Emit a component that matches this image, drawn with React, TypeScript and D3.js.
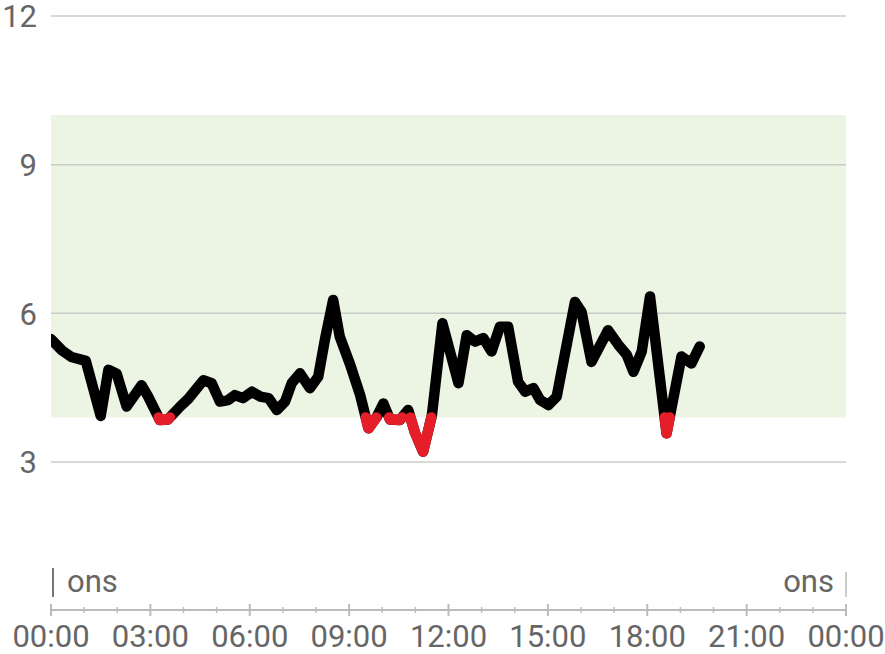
import React from "react";
import * as d3 from "d3";

const times: number[] = [0, 20, 37, 63, 90, 104, 119, 137, 164, 176, 197, 212, 234, 249, 276, 291, 306, 321, 333, 348, 364, 379, 394, 409, 424, 436, 451, 469, 484, 496, 511, 523, 542, 560, 575, 590, 602, 614, 632, 647, 659, 674, 690, 709, 738, 753, 768, 783, 798, 813, 828, 846, 859, 874, 886, 901, 916, 949, 961, 979, 1009, 1028, 1043, 1055, 1070, 1085, 1115, 1142, 1160, 1175];
const values: number[] = [5.48, 5.25, 5.12, 5.04, 3.93, 4.86, 4.78, 4.12, 4.55, 4.32, 3.85, 3.86, 4.12, 4.28, 4.65, 4.59, 4.22, 4.25, 4.35, 4.29, 4.42, 4.32, 4.29, 4.05, 4.22, 4.59, 4.79, 4.49, 4.72, 5.46, 6.27, 5.53, 4.96, 4.35, 3.68, 3.91, 4.18, 3.86, 3.85, 4.05, 3.6, 3.21, 3.95, 5.8, 4.59, 5.56, 5.43, 5.5, 5.23, 5.73, 5.73, 4.62, 4.42, 4.49, 4.25, 4.15, 4.32, 6.23, 6.03, 5.02, 5.66, 5.36, 5.16, 4.82, 5.23, 6.34, 3.58, 5.13, 4.99, 5.33];

const yTicks: number[] = [3, 6, 9, 12];
const xTickLabels: string[] = ["00:00", "03:00", "06:00", "09:00", "12:00", "15:00", "18:00", "21:00", "00:00"];
const dayLabel = "ons";
const rangeLow = 3.9;
const rangeHigh = 10;

type P = { t: number; v: number };

export default function App() {
  const W = 885, H = 654;
  const x = d3.scaleLinear().domain([0, 1440]).range([51, 846]);
  const y = d3.scaleLinear().domain([0, 12]).range([610.7, 16]);
  const pts: P[] = times.map((t, i) => ({ t, v: values[i] }));

  const line = d3.line<P>().x(d => x(d.t)).y(d => y(d.v));

  const runs: P[][] = [];
  let cur: P[] | null = null;
  pts.forEach((p, i) => {
    const below = p.v < rangeLow;
    if (i > 0) {
      const prev = pts[i - 1];
      const prevBelow = prev.v < rangeLow;
      if (below !== prevBelow) {
        const f = (rangeLow - prev.v) / (p.v - prev.v);
        const c = { t: prev.t + f * (p.t - prev.t), v: rangeLow };
        if (below) cur = [c];
        else if (cur) { cur.push(c); runs.push(cur); cur = null; }
      }
    }
    if (below) {
      if (!cur) cur = [];
      cur.push(p);
    }
  });
  if (cur) runs.push(cur);

  const minor = d3.range(0, 25);
  const fontFamily = "Roboto, 'Noto Sans', sans-serif";
  const fs = 31;

  return (
    <svg width={W} height={H} style={{ position: "absolute", left: 0, top: 0, background: "#fff" }}>
      <defs>
        <clipPath id="plotClip">
          <rect x={x(0)} y={0} width={x(1440) - x(0)} height={H} />
        </clipPath>
      </defs>
      <rect x={x(0)} y={y(rangeHigh)} width={x(1440) - x(0)} height={y(rangeLow) - y(rangeHigh)} fill="#ecf4e4" />
      {yTicks.map(v => (
        <g key={v}>
          <line x1={x(0)} x2={x(1440)} y1={y(v)} y2={y(v)} stroke="#c8ccc6" strokeWidth={1.5} />
          <text x={37} y={y(v)} dy="0.36em" textAnchor="end" fontSize={fs} fill="#666" fontFamily={fontFamily}>{v}</text>
        </g>
      ))}
      <g clipPath="url(#plotClip)">
        <path d={line(pts) || ""} fill="none" stroke="#000" strokeWidth={10.5} strokeLinejoin="round" strokeLinecap="round" />
        {runs.map((r, i) => (
          <path key={i} d={line(r) || ""} fill="none" stroke="#e61e2a" strokeWidth={10.5} strokeLinejoin="round" strokeLinecap="round" />
        ))}
      </g>
      <line x1={53} x2={53} y1={568} y2={597} stroke="#777" strokeWidth={2} />
      <text x={67} y={592} fontSize={fs} fill="#666" fontFamily={fontFamily}>{dayLabel}</text>
      <line x1={846} x2={846} y1={572} y2={597} stroke="#bbb" strokeWidth={1.5} />
      <text x={834} y={592} textAnchor="end" fontSize={fs} fill="#666" fontFamily={fontFamily}>{dayLabel}</text>
      <line x1={x(0)} x2={x(1440)} y1={610} y2={610} stroke="#bbb" strokeWidth={2} />
      {minor.map(h => (
        <line key={h} x1={x(h * 60)} x2={x(h * 60)} y1={h % 3 === 0 ? 604 : 607} y2={h % 3 === 0 ? 616 : 613} stroke="#bbb" strokeWidth={h % 3 === 0 ? 2 : 1.5} />
      ))}
      {xTickLabels.map((l, i) => (
        <text key={i} x={x(i * 180)} y={647} textAnchor="middle" fontSize={fs} fill="#666" fontFamily={fontFamily}>{l}</text>
      ))}
    </svg>
  );
}
